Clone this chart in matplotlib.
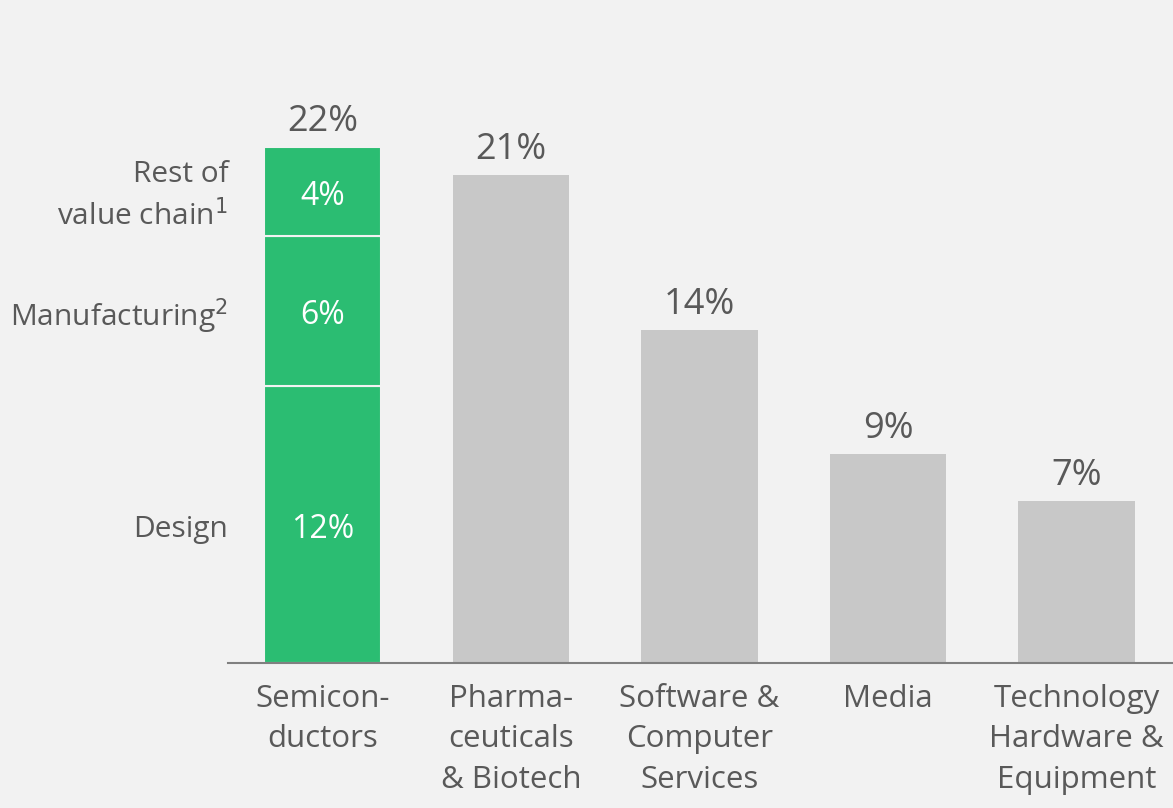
import matplotlib
matplotlib.use("Agg")
import matplotlib.pyplot as plt

categories = ["Semicon-\nductors", "Pharma-\nceuticals\n& Biotech", "Software &\nComputer\nServices",
              "Media", "Technology\nHardware &\nEquipment"]
totals = [22.0, 20.8, 14.2, 8.9, 6.9]
total_labels = ["22%", "21%", "14%", "9%", "7%"]
seg_names = ["Design", "Manufacturing$^2$", "Rest of\nvalue chain$^1$"]
seg_values = [11.8, 6.4, 3.8]
seg_labels = ["12%", "6%", "4%"]

bg = "#f2f2f2"
green = "#2bbd72"
gray = "#c8c8c8"
txt = "#595959"

plt.rcParams['font.family'] = ['Open Sans', 'DejaVu Sans']

fig = plt.figure(figsize=(11.73, 8.08), dpi=100, facecolor=bg)
ax = fig.add_axes([228/1173, (808-663)/808, 945/1173, 583/808])
ax.set_facecolor(bg)

x = list(range(len(categories)))
w = 0.62
for i in range(1, len(categories)):
    ax.bar(x[i], totals[i], width=w, color=gray, zorder=2)
bottom = 0
for v, lab in zip(seg_values, seg_labels):
    ax.bar(x[0], v, width=w, bottom=bottom, color=green, edgecolor=bg, linewidth=1.5, zorder=2)
    ax.text(x[0], bottom + v/2 - 0.2, lab, ha="center", va="center", color="white", fontsize=23)
    bottom += v

for i, (t, lab) in enumerate(zip(totals, total_labels)):
    ax.text(x[i], t + 0.3, lab, ha="center", va="bottom", color=txt, fontsize=26)

bottom = 0
for v, name in zip(seg_values, seg_names):
    ax.text(-0.5, bottom + v/2 - 0.2, name, ha="right", va="center", color=txt, fontsize=21.5,
            linespacing=1.42, transform=ax.transData, clip_on=False)
    bottom += v

ax.set_xlim(-0.501, 4.512)
ax.set_ylim(0, 583/23.45)
ax.set_xticks(x)
ax.set_xticklabels(categories, color=txt, fontsize=22.5, linespacing=1.45, va="top")
ax.tick_params(axis="x", length=0, pad=15)
ax.set_yticks([])
for s in ["top", "right", "left"]:
    ax.spines[s].set_visible(False)
ax.spines["bottom"].set_color("#808080")
ax.spines["bottom"].set_linewidth(1.5)

fig.savefig("out.png", dpi=100, facecolor=bg)
